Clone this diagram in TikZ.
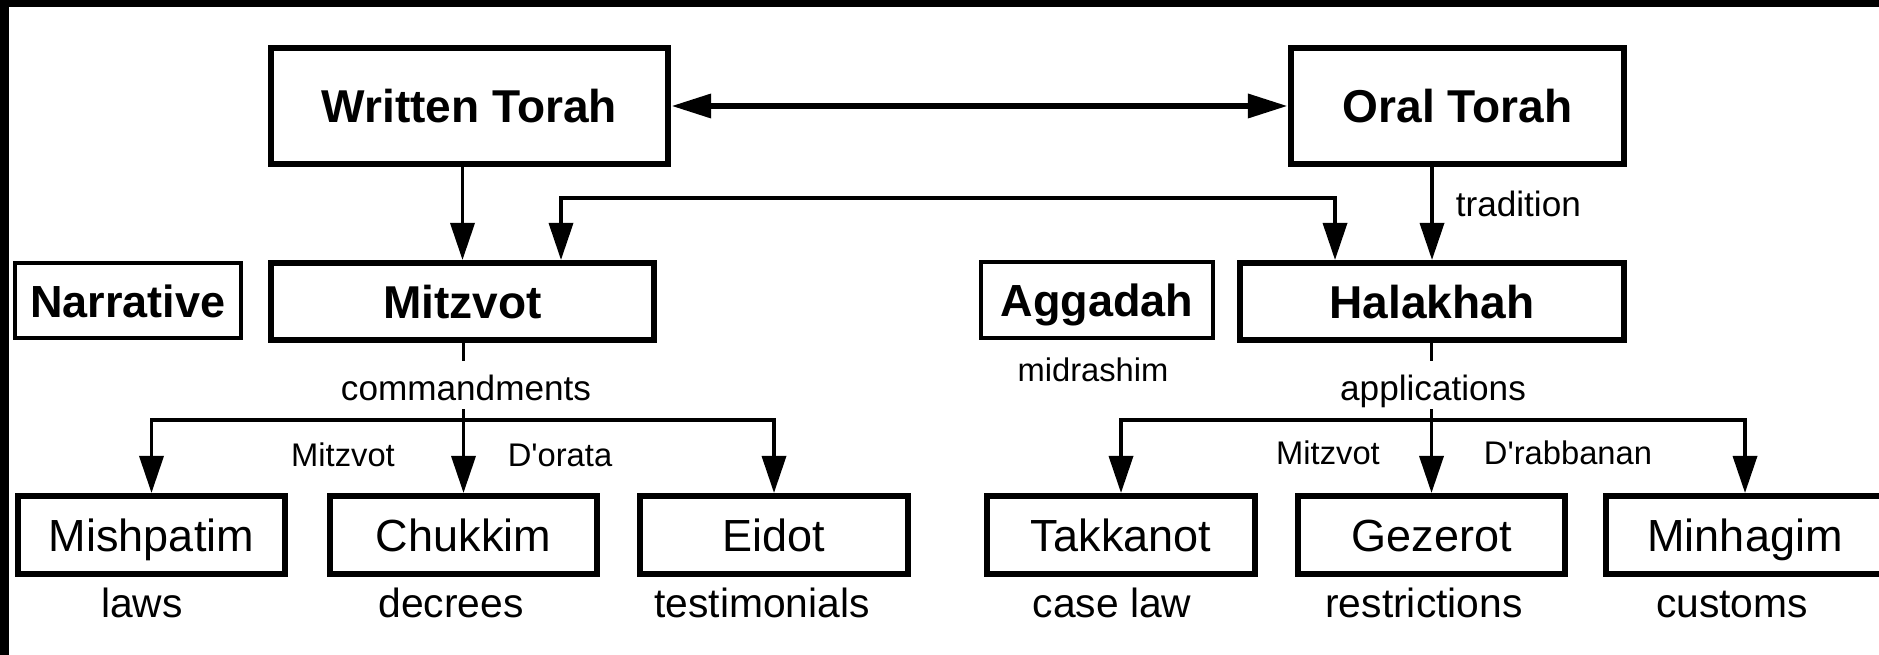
\documentclass[tikz,border=0pt]{standalone}
\usepackage{fontspec}
\setmainfont{Liberation Sans}
\usetikzlibrary{arrows.meta}
\tikzset{
    every node/.style={inner sep=0pt},
    titlebox/.style={draw,line width=0.6mm,font=\fontsize{13.1}{15}\selectfont\bfseries,text height=3.3mm,text depth=0pt},
    sidebox/.style={draw,line width=0.4mm,font=\fontsize{12.8}{15}\selectfont\bfseries,text height=3.3mm,text depth=0pt},
    leafbox/.style={draw,line width=0.6mm,minimum width=26.7mm,minimum height=7.8mm,font=\fontsize{12.8}{15}\selectfont,text height=3.3mm,text depth=0pt},
    lbl/.style={font=\fontsize{9.3}{11}\selectfont},
    splitlbl/.style={font=\fontsize{10}{12}\selectfont,anchor=base,text height=3.9mm,text depth=0.75mm},
    gloss/.style={font=\fontsize{11.6}{14}\selectfont,anchor=base},
    trunk/.style={line width=0.35mm},
    link/.style={trunk,-{Triangle[length=3.7mm,width=2.4mm]}},
    linkboth/.style={trunk,{Triangle[length=3.7mm,width=2.4mm]}-{Triangle[length=3.7mm,width=2.4mm]}},
    twoway/.style={line width=0.65mm,{Triangle[length=4mm,width=2.3mm]}-{Triangle[length=4mm,width=2.3mm]}}
}

\begin{document}
\begin{tikzpicture}[x=0.01cm,y=-0.01cm]
    \useasboundingbox (0,0) rectangle (1879,655);
    \clip (0,0) rectangle (1879,655);
    % frame
    \fill (0,0) rectangle (1879,7);
    \fill (0,0) rectangle (9,655);

    % the two torahs
    \node[titlebox,minimum width=39.7mm,minimum height=11.6mm] (wt) at (469.5,106) {Written Torah};
    \node[titlebox,minimum width=33.3mm,minimum height=11.6mm] (ot) at (1457.5,106) {Oral Torah};
    \draw[twoway] (wt) -- (ot);

    % second row
    \node[sidebox,minimum width=22.6mm,minimum height=7.5mm] (narr) at (128,300.5) {Narrative};
    \node[titlebox,minimum width=38.3mm,minimum height=7.7mm] (mitz) at (462.5,301.5) {Mitzvot};
    \node[sidebox,minimum width=23.2mm,minimum height=7.6mm] (agg) at (1097,300) {Aggadah};
    \node[titlebox,minimum width=38.4mm,minimum height=7.7mm] (hal) at (1432,301.5) {Halakhah};
    \node[lbl] (mid) at (1093,370) {midrashim};

    \draw[link] (wt.south -| mitz.north) -- (mitz.north);
    \draw[link] (ot.south -| hal.north) -- node[pos=0.4,anchor=west,xshift=2.2mm,font=\fontsize{10}{12}\selectfont] (trad) {tradition} (hal.north);
    \coordinate (mh1) at (561,198);
    \coordinate (mh2) at (1335,198);
    \draw[linkboth] (mitz.north -| mh1) -- (mh1) -- (mh2) -- (hal.north -| mh2);

    % mitzvot d'orata
    \coordinate (lsplit) at (463.5,420);
    \node[splitlbl] (cmd) at (466,401) {commandments};
    \draw[trunk] (mitz.south -| lsplit) -- (cmd.north -| lsplit);
    \draw[trunk] (cmd.south -| lsplit) -- (lsplit);
    \node[leafbox] (mish) at (151.5,535) {Mishpatim};
    \node[leafbox] (chuk) at (463.5,535) {Chukkim};
    \node[leafbox] (eid) at (774,535) {Eidot};
    \draw[link] (lsplit) -| (mish.north);
    \draw[link] (lsplit) -- (chuk.north);
    \draw[link] (lsplit) -| (eid.north);
    \node[lbl] (lmz) at (343,455) {Mitzvot};
    \node[lbl] (dor) at (560,455) {D\textquotesingle orata};
    \node[gloss] (laws) at (142,617) {laws};
    \node[gloss] (decr) at (451,617) {decrees};
    \node[gloss] (test) at (762,617) {testimonials};

    % mitzvot d'rabbanan
    \coordinate (rsplit) at (1431.5,420);
    \node[splitlbl] (apps) at (1433,401) {applications};
    \draw[trunk] (hal.south -| rsplit) -- (apps.north -| rsplit);
    \draw[trunk] (apps.south -| rsplit) -- (rsplit);
    \node[leafbox] (takk) at (1121,535) {Takkanot};
    \node[leafbox] (gez) at (1431.5,535) {Gezerot};
    \node[leafbox,minimum width=27.8mm] (minh) at (1745,535) {Minhagim};
    \draw[link] (rsplit) -| (takk.north);
    \draw[link] (rsplit) -- (gez.north);
    \draw[link] (rsplit) -| (minh.north);
    \node[lbl] (rmz) at (1328,453) {Mitzvot};
    \node[lbl] (drb) at (1568,453) {D\textquotesingle rabbanan};
    \node[gloss] (case) at (1112,617) {case law};
    \node[gloss] (restr) at (1424,617) {restrictions};
    \node[gloss] (cust) at (1732,617) {customs};
\end{tikzpicture}
\end{document}
